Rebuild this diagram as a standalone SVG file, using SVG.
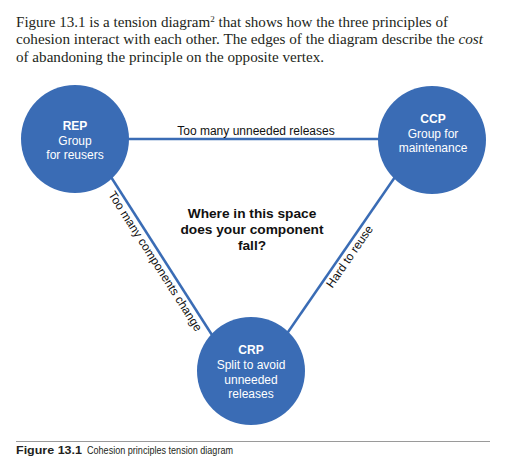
<svg xmlns="http://www.w3.org/2000/svg" width="507" height="463" viewBox="0 0 507 463">
<style>
.body{font-family:"Liberation Serif","Times New Roman",serif;font-size:15px;fill:#231f20}
.edge{stroke:#3a6cb5;stroke-width:2.5;fill:none}
.node{fill:#3a6cb5}
.nt{font-family:"Liberation Sans",Arial,sans-serif;font-size:12px;fill:#ffffff;text-anchor:middle}
.nt .b{font-weight:bold}
.lbl{font-family:"Liberation Sans",Arial,sans-serif;font-size:12px;fill:#111111;text-anchor:middle}
.q{font-family:"Liberation Sans",Arial,sans-serif;font-size:13.7px;font-weight:bold;fill:#111111;text-anchor:middle}
.cap{font-family:"Liberation Sans",Arial,sans-serif;font-size:10.5px;fill:#231f20}
</style>
<rect width="507" height="463" fill="#ffffff"/>
<g id="intro">
<text class="body" x="16" y="26.5" textLength="432" lengthAdjust="spacingAndGlyphs">Figure 13.1 is a tension diagram<tspan font-size="9" dy="-5">2</tspan><tspan dy="5"> that shows how the three principles of</tspan></text>
<text class="body" x="16" y="44" textLength="467" lengthAdjust="spacingAndGlyphs">cohesion interact with each other. The edges of the diagram describe the <tspan font-style="italic">cost</tspan></text>
<text class="body" x="16" y="61.5" textLength="308" lengthAdjust="spacingAndGlyphs">of abandoning the principle on the opposite vertex.</text>
</g>
<g id="connectors">
<line class="edge" x1="125" y1="139" x2="380" y2="139"/>
<line class="edge" x1="111" y1="177" x2="212" y2="335"/>
<line class="edge" x1="395" y1="177" x2="286" y2="335"/>
<text class="lbl" x="256" y="135">Too many unneeded releases</text>
<g transform="translate(162,257) rotate(57.45)"><text class="lbl" x="0" y="12">Too many components change</text></g>
<g transform="translate(343,252) rotate(-55.4)"><text class="lbl" x="0" y="12">Hard to reuse</text></g>
</g>
<g id="REP">
<circle class="node" cx="75" cy="139" r="54"/>
<text class="nt"><tspan class="b" x="75" y="130">REP</tspan><tspan x="75" y="145">Group</tspan><tspan x="75" y="159">for reusers</tspan></text>
</g>
<g id="CCP">
<circle class="node" cx="432" cy="140" r="54"/>
<text class="nt"><tspan class="b" x="433" y="123">CCP</tspan><tspan x="433" y="138">Group for</tspan><tspan x="433" y="152">maintenance</tspan></text>
</g>
<g id="CRP">
<circle class="node" cx="251" cy="371" r="54"/>
<text class="nt"><tspan class="b" x="251" y="354">CRP</tspan><tspan x="251" y="369">Split to avoid</tspan><tspan x="251" y="384">unneeded</tspan><tspan x="251" y="398">releases</tspan></text>
</g>
<g id="question">
<text class="q"><tspan x="252" y="218">Where in this space</tspan><tspan x="252" y="234">does your component</tspan><tspan x="252" y="250">fall?</tspan></text>
</g>
<g id="caption">
<line x1="16" y1="441.5" x2="490" y2="441.5" stroke="#9a9a9a" stroke-width="1"/>
<text class="cap" x="16" y="454" font-weight="bold" textLength="66" lengthAdjust="spacingAndGlyphs">Figure 13.1</text>
<text class="cap" x="87" y="454" textLength="146" lengthAdjust="spacingAndGlyphs">Cohesion principles tension diagram</text>
</g>
</svg>
